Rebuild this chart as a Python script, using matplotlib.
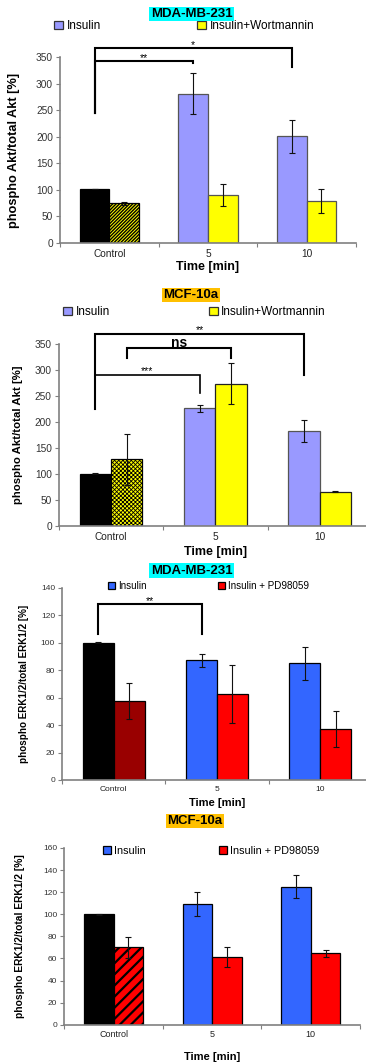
import numpy as np
import matplotlib.pyplot as plt
from matplotlib.patches import Patch

plt.rcParams['font.family'] = ['Liberation Sans', 'DejaVu Sans']
plt.rcParams['hatch.linewidth'] = 0.6

W, H = 366, 1062
groups = ['Control', '5', '10']

# Akt, MDA-MB-231
akt_mda_ins = [102, 281, 201]
akt_mda_ins_err = [0, 39, 31]
akt_mda_wort = [75, 90, 79]
akt_mda_wort_err = [3, 21, 23]

# Akt, MCF-10a
akt_mcf_ins = [100, 226, 182]
akt_mcf_ins_err = [1, 7, 21]
akt_mcf_wort = [128, 273, 66]
akt_mcf_wort_err = [49, 39, 1]

# ERK, MDA-MB-231
erk_mda_ins = [100, 87, 85]
erk_mda_ins_err = [0.3, 5, 12]
erk_mda_pd = [57.5, 62.5, 37]
erk_mda_pd_err = [13, 21, 13]

# ERK, MCF-10a
erk_mcf_ins = [100, 109, 125]
erk_mcf_ins_err = [0.3, 11, 10.5]
erk_mcf_pd = [70, 61, 64.5]
erk_mcf_pd_err = [9.5, 9, 3]

fig = plt.figure(figsize=(W / 100, H / 100), dpi=100)


def make_ax(left, right, top, bottom):
    return fig.add_axes([left / W, 1 - bottom / H, (right - left) / W, (bottom - top) / H])


def style_ax(ax, ymax, ystep, xtick_fs, ytick_fs):
    ax.set_xlim(-0.5, 2.5)
    ax.set_ylim(0, ymax)
    ax.set_yticks(np.arange(0, ymax + 1, ystep))
    for s in ['top', 'right']:
        ax.spines[s].set_visible(False)
    for s in ['left', 'bottom']:
        ax.spines[s].set_color('#808080')
        ax.spines[s].set_linewidth(1.2)
    ax.set_xticks([-0.5, 0.5, 1.5, 2.5])
    ax.set_xticklabels([])
    ax.set_xticks([0, 1, 2], minor=True)
    ax.set_xticklabels(groups, minor=True, fontsize=xtick_fs, color='#222222')
    ax.tick_params(axis='x', which='major', length=3, color='#808080', direction='out')
    ax.tick_params(axis='x', which='minor', length=0, pad=4)
    ax.tick_params(axis='y', length=3, color='#808080', labelsize=ytick_fs,
                   labelcolor='#333333', pad=2)


def draw_bars(ax, ins, ins_err, trt, trt_err, ins_col, trt_col, ctrl_trt_col,
              hatch, hatch_lw, edge, trt_edge):
    x = np.arange(len(groups))
    w = 0.3
    ins_colors = ['black'] + [ins_col] * (len(groups) - 1)
    ins_edges = ['black'] + [edge] * (len(groups) - 1)
    ax.bar(x - w / 2, ins, w, color=ins_colors, edgecolor=ins_edges, linewidth=0.9,
           yerr=ins_err, error_kw=dict(ecolor='#111111', elinewidth=0.8, capsize=2.2, capthick=0.8))
    with plt.rc_context({'hatch.linewidth': hatch_lw}):
        b = ax.bar(x + w / 2, trt, w, color=trt_col, edgecolor=trt_edge, linewidth=0.9,
                   yerr=trt_err, error_kw=dict(ecolor='#111111', elinewidth=0.8, capsize=2.2, capthick=0.8))
    b[0].set_facecolor(ctrl_trt_col)
    b[0].set_hatch(hatch)
    b[0].set_edgecolor('black')
    if hasattr(b[0], 'set_hatch_linewidth'):
        b[0].set_hatch_linewidth(hatch_lw)


def bracket(ax, x1, x2, y, y1, y2, label, label_y, fs, bold=False, lw=1.5):
    ax.plot([x1, x1, x2, x2], [y1, y, y, y2], color='black', lw=lw, clip_on=False,
            solid_joinstyle='miter')
    ax.text((x1 + x2) / 2, label_y, label, ha='center', va='center', fontsize=fs,
            fontweight='bold' if bold else 'normal', clip_on=False)


def title_box(x, y, text, color):
    fig.text(x / W, 1 - y / H, text, ha='center', va='center', fontsize=9.5,
             fontweight='bold', bbox=dict(facecolor=color, edgecolor='none', pad=1.0))


def legend(ax, labels, colors, x, y, fs, cs, edge):
    handles = [Patch(facecolor=c, edgecolor=edge, linewidth=0.9) for c in colors]
    ax.legend(handles, labels, ncol=2, loc='center left',
              bbox_to_anchor=(x / W, 1 - y / H), bbox_transform=fig.transFigure,
              frameon=False, fontsize=fs, handlelength=0.75, handleheight=0.75,
              handletextpad=0.3, columnspacing=cs, borderpad=0, borderaxespad=0)


def labels(ax, ylab, ylab_fs, ylab_x, xlab_y, xlab_fs, left, right, top, bottom):
    ax.set_ylabel(ylab, fontsize=ylab_fs, fontweight='bold')
    ax.yaxis.set_label_coords((ylab_x - left) / (right - left), 0.5)
    ax.set_xlabel('Time [min]', fontsize=xlab_fs, fontweight='bold', va='center')
    ax.xaxis.set_label_coords(0.5, -(xlab_y - bottom) / (bottom - top))


# ---- panel 1: Akt MDA-MB-231
L, R, T, B = 60, 356, 57, 243
ax1 = make_ax(L, R, T, B)
draw_bars(ax1, akt_mda_ins, akt_mda_ins_err, akt_mda_wort, akt_mda_wort_err,
          '#9999FF', '#FFFF00', '#FFFF00', '//////////', 1.0, '#555555', '#555555')
style_ax(ax1, 350, 50, 7.3, 7.3)
labels(ax1, 'phospho Akt/total Akt [%]', 9.2, 20, 267, 9, L, R, T, B)
bracket(ax1, -0.15, 0.85, 343, 244, 339, '**', 348, 7.5)
bracket(ax1, -0.15, 1.85, 367, 244, 332, '*', 373, 7.5)
title_box(191.5, 14, 'MDA-MB-231', '#00FFFF')
legend(ax1, ['Insulin', 'Insulin+Wortmannin'], ['#9999FF', '#FFFF00'], 54, 26, 8.5, 8.2, '#333333')

# ---- panel 2: Akt MCF-10a
L, R, T, B = 58.7, 372, 343.7, 526
ax2 = make_ax(L, R, T, B)
draw_bars(ax2, akt_mcf_ins, akt_mcf_ins_err, akt_mcf_wort, akt_mcf_wort_err,
          '#9999FF', '#FFFF00', '#FFFF00', 'xxxxxxxx', 0.6, '#555555', '#222222')
style_ax(ax2, 350, 50, 7.3, 7.3)
labels(ax2, 'phospho Akt/total Akt [%]', 8.2, 23, 552, 9, L, R, T, B)
bracket(ax2, -0.15, 1.85, 368.5, 224, 289, '**', 376, 7.5)
bracket(ax2, 0.15, 1.15, 341.6, 322, 322, 'ns', 352, 10, bold=True)
bracket(ax2, -0.15, 0.85, 289, 224, 256, '***', 297, 7.5, lw=1.2)
title_box(191, 295, 'MCF-10a', '#FFC000')
legend(ax2, ['Insulin', 'Insulin+Wortmannin'], ['#9999FF', '#FFFF00'], 63, 312, 8.5, 8.4, '#333333')

# ---- panel 3: ERK MDA-MB-231
L, R, T, B = 62, 372, 587.7, 780
ax3 = make_ax(L, R, T, B)
draw_bars(ax3, erk_mda_ins, erk_mda_ins_err, erk_mda_pd, erk_mda_pd_err,
          '#3366FF', '#FF0000', '#990000', '', 0.6, 'black', 'black')
style_ax(ax3, 140, 20, 6, 6)
labels(ax3, 'phospho ERK1/2/total ERK1/2 [%]', 7.1, 29, 803, 8, L, R, T, B)
bracket(ax3, -0.15, 0.85, 128, 106, 106, '**', 130.5, 7.5)
title_box(191.5, 570.5, 'MDA-MB-231', '#00FFFF')
legend(ax3, ['Insulin', 'Insulin + PD98059'], ['#3366FF', '#FF0000'], 108, 586, 7.1, 7.2, 'black')

# ---- panel 4: ERK MCF-10a
L, R, T, B = 64.3, 360, 848, 1024.7
ax4 = make_ax(L, R, T, B)
draw_bars(ax4, erk_mcf_ins, erk_mcf_ins_err, erk_mcf_pd, erk_mcf_pd_err,
          '#3366FF', '#FF0000', '#FF0000', '///', 1.6, 'black', 'black')
style_ax(ax4, 160, 20, 6.5, 6)
labels(ax4, 'phospho ERK1/2/total ERK1/2 [%]', 7.4, 25, 1057, 8, L, R, T, B)
title_box(195, 821, 'MCF-10a', '#FFC000')
legend(ax4, ['Insulin', 'Insulin + PD98059'], ['#3366FF', '#FF0000'], 103, 851, 7.8, 6.7, 'black')

fig.savefig('out.png', dpi=100)
